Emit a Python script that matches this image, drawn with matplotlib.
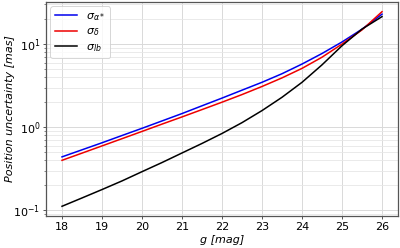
import matplotlib
matplotlib.use("Agg")
import matplotlib.pyplot as plt
import numpy as np

g_mag = [18.0, 18.5, 19.0, 19.5, 20.0, 20.5, 21.0, 21.5, 22.0, 22.5, 23.0, 23.5, 24.0, 24.5, 25.0, 25.5, 26.0]
sigma_alpha = [0.44, 0.535, 0.65, 0.795, 0.97, 1.19, 1.46, 1.81, 2.24, 2.79, 3.47, 4.4, 5.75, 7.7, 10.6, 15.1, 22.9]
sigma_delta = [0.40, 0.488, 0.596, 0.728, 0.89, 1.09, 1.33, 1.63, 2.0, 2.47, 3.09, 3.92, 5.1, 6.95, 10.0, 14.8, 24.5]
sigma_lb = [0.112, 0.141, 0.178, 0.226, 0.292, 0.376, 0.49, 0.638, 0.841, 1.135, 1.585, 2.291, 3.467, 5.623, 9.55, 15.14, 21.38]

labels = [r"$\sigma_{\alpha*}$", r"$\sigma_{\delta}$", r"$\sigma_{lb}$"]
colors = ["#0000ee", "#ee0000", "#000000"]

plt.rcParams['font.family'] = ['DejaVu Sans']
plt.rcParams['font.size'] = 8

fig = plt.figure(figsize=(4.0, 2.48), dpi=100)
ax = fig.add_axes([0.115, 0.129, 0.88, 0.863])

for y, lab, c in zip([sigma_alpha, sigma_delta, sigma_lb], labels, colors):
    ax.plot(g_mag, y, color=c, lw=1.1, label=lab)

ax.set_yscale('log')
ax.set_xticks([18, 19, 20, 21, 22, 23, 24, 25, 26])
ax.grid(True, which='major', color='#d9d9d9', lw=0.7)
ax.grid(True, which='minor', axis='y', color='#e6e6e6', lw=0.6)
ax.set_axisbelow(True)

for s in ax.spines.values():
    s.set_color('#555555')
    s.set_linewidth(0.9)
ax.tick_params(axis='both', which='major', length=2.5, width=0.7, color='#555555', labelsize=8, pad=1.5)
ax.tick_params(axis='y', which='minor', length=1.5, width=0.5, color='#555555')

ax.set_xlabel("g [mag]", style='italic', fontsize=8)
ax.set_ylabel("Position uncertainty [mas]", style='italic', fontsize=8)
ax.xaxis.set_label_coords(0.5, -0.088)
ax.yaxis.set_label_coords(-0.088, 0.5)

leg = ax.legend(loc='upper left', fontsize=8, frameon=True, handlelength=2.0,
                borderaxespad=0.4, labelspacing=0.35)
leg.get_frame().set_edgecolor('#cccccc')
leg.get_frame().set_linewidth(0.7)

fig.savefig("out.png", dpi=100)
